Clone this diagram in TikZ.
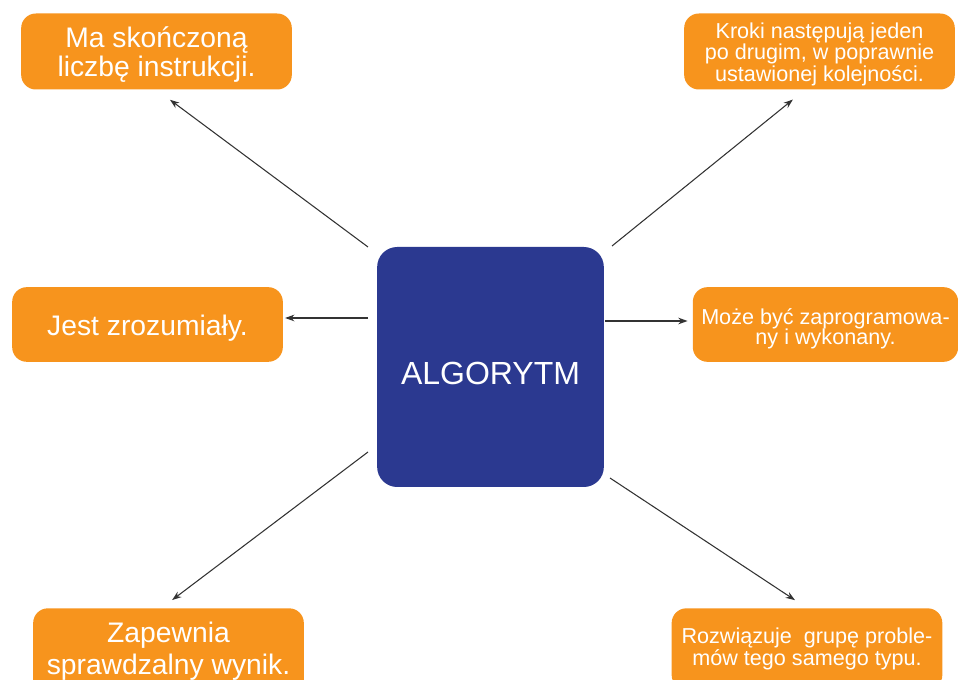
\documentclass[tikz,border=0pt]{standalone}
\usepackage{fontspec}
\setmainfont{Liberation Sans}
\usepackage{tikz}
\usetikzlibrary{arrows.meta,calc}
\definecolor{algoorange}{HTML}{F7941D}
\definecolor{algoblue}{HTML}{2B3990}

\begin{document}
\begin{tikzpicture}[
    x=0.75pt, y=-0.75pt,
    feature/.style={rectangle, rounded corners=11pt, fill=algoorange, text=white, inner sep=0pt, align=center, minimum width=203pt, minimum height=57pt},
    bigtext/.style={font=\fontsize{21.2}{24}\selectfont},
    smalltext/.style={font=\fontsize{16.2}{15}\selectfont},
    core/.style={rectangle, rounded corners=15pt, fill=algoblue, text=white, minimum width=170pt, minimum height=180pt, font=\fontsize{24}{28}\selectfont},
    arrow/.style={-{Stealth[length=7pt,width=5pt]}, line width=0.8pt, black!80}
]
    \clip (0,0) rectangle (958,680);
    \useasboundingbox (0,0) rectangle (958,680);

    % Nodes
    \node[core] (algo) at (490.5,367) {\raisebox{-4.5pt}[\height][\depth]{ALGORYTM}};
    \node[feature, bigtext] (steps) at (156.5,51.5) {\raisebox{-2pt}[\height][\depth]{\shortstack{Ma skończoną\\[-1pt]liczbę instrukcji.}}};
    \node[feature, smalltext] (order) at (819.5,51.5) {\raisebox{-2pt}[\height][\depth]{\shortstack{Kroki następują jeden\\[-2pt]po drugim, w poprawnie\\[-2pt]ustawionej kolejności.}}};
    \node[feature, bigtext, minimum height=56pt] (clear) at (147.5,324.5) {\raisebox{-3pt}[\height][\depth]{Jest zrozumiały.}};
    \node[feature, smalltext, minimum width=199pt, minimum height=56pt] (program) at (825.5,324.5) {\raisebox{-3pt}[\height][\depth]{\shortstack{Może być zaprogramowa-\\[-3pt]ny i wykonany.}}};
    \node[feature, bigtext, minimum height=64pt] (result) at (168.5,651) {Zapewnia\\sprawdzalny wynik.};
    \node[feature, smalltext, minimum height=61pt] (solve) at (807,649) {Rozwiązuje\ \ grupę proble-\\mów tego samego typu.};

    % Start points
    \coordinate (s1) at (368,247);
    \coordinate (s2) at (612,246);
    \coordinate (s3) at (368,318);
    \coordinate (s4) at (605,321);
    \coordinate (s5) at (368,452);
    \coordinate (s6) at (610,478);

    % Arrows
    \draw[arrow, shorten >=12.6pt] (s1) -- (steps.south);
    \draw[arrow, shorten >=11.7pt] (s2) -- ($(order.south)+(-14.5,0)$);
    \draw[arrow, shorten >=1.5pt] (s3) -- (s3 -| clear.east);
    \draw[arrow, shorten >=3.75pt] (s4) -- (s4 -| program.west);
    \draw[arrow, shorten >=10pt] (s5) -- ($(result.north)+(-7,0)$);
    \draw[arrow, shorten >=10.8pt] (s6) -- (solve.north);
\end{tikzpicture}
\end{document}
